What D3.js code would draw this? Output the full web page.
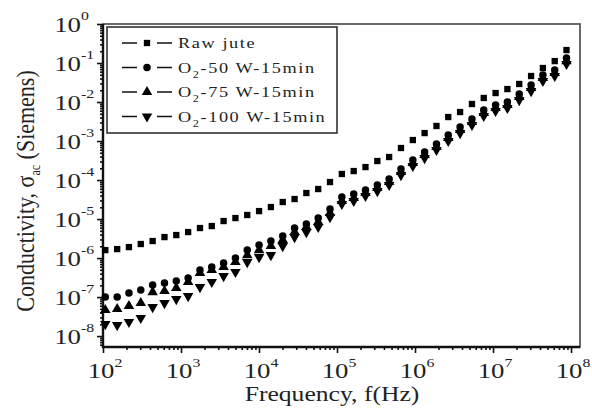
<!DOCTYPE html>
<html>
<head>
<meta charset="utf-8">
<script src="https://cdn.jsdelivr.net/npm/d3@7"></script>
<style>
  body { margin: 0; background: #fff; }
  svg { display: block; font-family: "Liberation Serif", "Times New Roman", serif; }
</style>
</head>
<body>
<svg width="592" height="409"></svg>
<script>
// frequencies (Hz)
const freq = [107, 152, 215, 305, 433, 614, 870, 1234, 1750, 2479,
  3516, 4985, 7066, 10020, 14200, 20140, 28570, 40460, 57410, 81280,
  115300, 163700, 231700, 328900, 465600, 660700, 937600, 1327000, 1884000, 2667000,
  3784000, 5370000, 7603000, 10790000, 15280000, 21680000, 30760000, 43550000, 61800000, 87500000]

const rawJute = [1.60e-6, 1.70e-6, 1.91e-6, 2.29e-6, 2.73e-6, 3.45e-6, 3.89e-6, 4.64e-6, 5.88e-6, 6.62e-6,
  8.89e-6, 1.06e-5, 1.27e-5, 1.60e-5, 2.03e-5, 2.73e-5, 3.26e-5, 4.64e-5, 5.88e-5, 8.89e-5,
  1.43e-4, 1.70e-4, 2.15e-4, 3.07e-4, 3.89e-4, 6.62e-4, 1.06e-3, 1.60e-3, 2.43e-3, 4.12e-3,
  5.54e-3, 8.89e-3, 1.27e-2, 1.70e-2, 2.15e-2, 2.90e-2, 4.64e-2, 7.44e-2, 0.112, 0.215]

const o2w50 = [1.0e-7, 1.0e-7, 1.27e-7, 1.51e-7, 2.03e-7, 2.29e-7, 2.57e-7, 3.07e-7, 4.92e-7, 5.88e-7,
  7.45e-7, 1.0e-6, 1.6e-6, 2.15e-6, 2.73e-6, 3.66e-6, 5.88e-6, 7.45e-6, 1.06e-5, 1.8e-5,
  3.66e-5, 4.38e-5, 5.54e-5, 7.45e-5, 1.06e-4, 1.91e-4, 3.26e-4, 5.22e-4, 8.38e-4, 1.43e-3,
  2.29e-3, 3.66e-3, 6.24e-3, 8.38e-3, 1.0e-2, 1.6e-2, 2.73e-2, 4.92e-2, 6.62e-2, 0.134]

const o2w75 = [4.64e-8, 4.92e-8, 5.88e-8, 7.02e-8, 1.34e-7, 1.43e-7, 1.70e-7, 2.43e-7, 4.12e-7, 4.92e-7,
  5.88e-7, 7.89e-7, 1.19e-6, 1.60e-6, 2.03e-6, 2.90e-6, 4.64e-6, 6.24e-6, 8.38e-6, 1.43e-5,
  2.90e-5, 3.45e-5, 4.64e-5, 6.24e-5, 8.89e-5, 1.60e-4, 2.73e-4, 4.38e-4, 7.02e-4, 1.19e-3,
  1.91e-3, 3.07e-3, 5.22e-3, 7.02e-3, 8.38e-3, 1.34e-2, 2.29e-2, 4.12e-2, 5.54e-2, 0.112]

const o2w100 = [2.03e-8, 1.91e-8, 2.29e-8, 2.90e-8, 5.54e-8, 7.02e-8, 8.89e-8, 1.06e-7, 1.80e-7, 2.43e-7,
  3.45e-7, 4.38e-7, 7.89e-7, 1.06e-6, 1.19e-6, 2.03e-6, 3.45e-6, 4.64e-6, 6.24e-6, 1.12e-5,
  2.43e-5, 2.90e-5, 3.89e-5, 5.22e-5, 7.45e-5, 1.34e-4, 2.29e-4, 3.66e-4, 5.88e-4, 1.0e-3,
  1.60e-3, 2.57e-3, 4.38e-3, 5.88e-3, 7.02e-3, 1.12e-2, 1.91e-2, 3.45e-2, 4.64e-2, 9.42e-2]

const seriesNames = ['Raw jute', '-50 W-15min', '-75 W-15min', '-100 W-15min']
const xTickExps = [2, 3, 4, 5, 6, 7, 8]
const yTickExps = [0, -1, -2, -3, -4, -5, -6, -7, -8]

const series = [
  { name: seriesNames[0], values: rawJute, symbol: d3.symbolSquare, size: 40, rot: 0, o2: false },
  { name: seriesNames[1], values: o2w50, symbol: d3.symbolCircle, size: 44, rot: 0, o2: true },
  { name: seriesNames[2], values: o2w75, symbol: d3.symbolTriangle, size: 48, rot: 0, o2: true },
  { name: seriesNames[3], values: o2w100, symbol: d3.symbolTriangle, size: 48, rot: 180, o2: true },
]

const svg = d3.select('svg')
const plotL = 103, plotR = 580, plotT = 24, plotB = 347

const x = d3.scaleLog().domain([100, Math.pow(10, 8.115)]).range([plotL, plotR])
const y = d3.scaleLog().domain([1, Math.pow(10, -8.28)]).range([plotT, plotB])

// minor + major ticks
const xMinor = [], yMinor = []
for (let e = 2; e <= 8; e++) for (let m = 2; m <= 9; m++) {
  const v = m * Math.pow(10, e)
  if (v <= x.domain()[1]) xMinor.push(v)
}
for (let e = -9; e <= -1; e++) for (let m = 2; m <= 9; m++) {
  const v = m * Math.pow(10, e)
  if (v >= y.domain()[1]) yMinor.push(v)
}

const axX = svg.append('g').attr('transform', `translate(0,${plotB})`)
axX.call(d3.axisBottom(x).tickValues(xMinor).tickSize(3).tickFormat(''))
axX.append('g').call(d3.axisBottom(x).tickValues(xTickExps.map((e) => Math.pow(10, e))).tickSize(6).tickFormat(''))
const axY = svg.append('g').attr('transform', `translate(${plotL},0)`)
axY.call(d3.axisLeft(y).tickValues(yMinor).tickSize(3).tickFormat(''))
axY.append('g').call(d3.axisLeft(y).tickValues(yTickExps.map((e) => Math.pow(10, e))).tickSize(6).tickFormat(''))
svg.selectAll('.domain').remove()
svg.selectAll('.tick line').attr('stroke', '#111').attr('stroke-width', 1.6)

// frame
svg.append('rect')
  .attr('x', plotL).attr('y', plotT)
  .attr('width', plotR - plotL).attr('height', plotB - plotT)
  .attr('fill', 'none').attr('stroke', '#444').attr('stroke-width', 1.6)
svg.append('path')
  .attr('d', `M${plotL},${plotT}V${plotB}H${plotR}`)
  .attr('fill', 'none').attr('stroke', '#111').attr('stroke-width', 2.4)

// tick labels
const sx = 1.22
xTickExps.forEach((e) => {
  const t = svg.append('text')
    .attr('transform', `translate(${x(Math.pow(10, e)) + 2},378) scale(${sx},1)`)
    .attr('text-anchor', 'middle').attr('font-size', 22).attr('fill', '#222')
  t.append('tspan').text('10')
  t.append('tspan').attr('font-size', 13).attr('dy', -11).text(e)
})
yTickExps.forEach((e) => {
  svg.append('text')
    .attr('transform', `translate(81,${y(Math.pow(10, e)) + 8}) scale(${sx},1)`)
    .attr('text-anchor', 'end').attr('font-size', 22).attr('fill', '#222')
    .text('10')
  svg.append('text')
    .attr('transform', `translate(81,${y(Math.pow(10, e)) - 4}) scale(${sx},1)`)
    .attr('font-size', 13).attr('fill', '#222')
    .text(e)
})

// axis titles
svg.append('text')
  .attr('transform', `translate(332,401) scale(${sx},1)`)
  .attr('text-anchor', 'middle').attr('font-size', 21).attr('fill', '#222')
  .text('Frequency, f(Hz)')

const yt = svg.append('text')
  .attr('transform', 'translate(34,191) rotate(-90) scale(1,1.15)')
  .attr('text-anchor', 'middle').attr('font-size', 22).attr('fill', '#222')
yt.append('tspan').text('Conductivity, σ')
yt.append('tspan').attr('font-size', 12).attr('dy', 5).text('ac')
yt.append('tspan').attr('dy', -5).text(' (Siemens)')

// points
const sym = d3.symbol()
series.forEach((s) => {
  svg.append('g').selectAll('path')
    .data(s.values)
    .join('path')
    .attr('transform', (d, i) => `translate(${x(freq[i])},${y(d)}) rotate(${s.rot})`)
    .attr('d', sym.type(s.symbol).size(s.size))
    .attr('fill', '#000')
})

// legend
const lg = svg.append('g')
lg.append('rect').attr('x', 107).attr('y', 27).attr('width', 230).attr('height', 106)
  .attr('fill', '#fff').attr('stroke', '#333').attr('stroke-width', 1.6)
series.forEach((s, i) => {
  const cy = 43 + i * 24.5
  lg.append('path').attr('d', `M122,${cy}H137M157,${cy}H172`).attr('stroke', '#111').attr('stroke-width', 1.3)
  lg.append('path').attr('transform', `translate(147,${cy}) rotate(${s.rot})`)
    .attr('d', sym.type(s.symbol).size(s.size)).attr('fill', '#000')
  const t = lg.append('text')
    .attr('transform', `translate(178,${cy + 5}) scale(${sx},1)`)
    .attr('font-size', 15).attr('letter-spacing', 1.3).attr('fill', '#222')
  if (s.o2) {
    t.append('tspan').text('O')
    t.append('tspan').attr('font-size', 10).attr('dy', 5).text('2')
    t.append('tspan').attr('dy', -5).text(s.name)
  } else {
    t.text(s.name)
  }
})
</script>
</body>
</html>
